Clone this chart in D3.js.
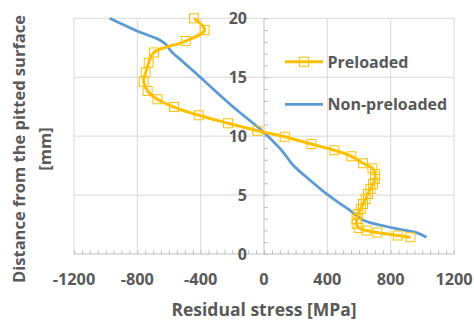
<!DOCTYPE html>
<html><head><meta charset="utf-8">
<script src="https://cdn.jsdelivr.net/npm/d3@7"></script>
<style>body{margin:0;background:#fff}svg{display:block}text{font-family:"Open Sans",sans-serif;font-weight:bold;fill:#595959}</style>
</head><body><svg id="c" width="474" height="322"></svg>
<script>
const seriesNames = ["Preloaded", "Non-preloaded"];
const xTicks = [-1200, -800, -400, 0, 400, 800, 1200];
const yTicks = [0, 5, 10, 15, 20];
// Preloaded: stress [MPa], depth [mm]
const preStress = [-442,-375,-494,-695,-728,-747,-760,-735,-673,-568,-412,-227,-42,131,299,445,552,625,685,701,701,688,672,657,642,625,611,595,585,585,598,647,716,845,925];
const preDepth  = [20.0,19.0,18.07,17.1,16.23,15.42,14.62,13.83,13.13,12.47,11.77,11.09,10.46,9.95,9.33,8.80,8.29,7.70,7.27,6.79,6.36,5.94,5.52,5.09,4.67,4.24,3.82,3.39,2.97,2.55,2.21,1.99,1.82,1.57,1.42];
// Non-preloaded
const nonStress = [-975,-806,-659,-616,-585,-512,-406,-196,-6,110,183,289,404,478,541,625,731,857,963,1026];
const nonDepth  = [20.0,18.95,18.16,17.73,17.17,16.32,15.04,12.50,10.38,8.82,7.55,6.28,5.01,4.30,3.73,2.89,2.46,2.10,1.81,1.42];

const svg = d3.select("#c");
const x = d3.scaleLinear().domain([-1200,1200]).range([74,454]);
const y = d3.scaleLinear().domain([0,20]).range([254,18.3]);

// gridlines
svg.append("g").selectAll("line").data(xTicks.filter(d=>d!==0)).join("line")
  .attr("x1",d=>x(d)).attr("x2",d=>x(d)).attr("y1",y(0)).attr("y2",y(20))
  .attr("stroke","#d9d9d9").attr("stroke-width",1);
svg.append("g").selectAll("line").data(yTicks.filter(d=>d!==0)).join("line")
  .attr("x1",x(-1200)).attr("x2",x(1200)).attr("y1",d=>y(d)).attr("y2",d=>y(d))
  .attr("stroke","#d9d9d9").attr("stroke-width",1);

// x axis with minor ticks (inside)
const xa = svg.append("g").attr("transform",`translate(0,${y(0)})`)
  .call(d3.axisBottom(x).tickValues(d3.range(-1200,1201,50)).tickSize(-4).tickFormat(""));
xa.select(".domain").attr("stroke","#bfbfbf").attr("d",`M${x(-1200)},0H${x(1200)}`);
xa.selectAll(".tick line").attr("stroke","#bfbfbf");
// y axis at x=0 with minor ticks to right
const ya = svg.append("g").attr("transform",`translate(${x(0)},0)`)
  .call(d3.axisRight(y).tickValues(d3.range(0,21,1)).tickSize(4).tickFormat(""));
ya.select(".domain").attr("stroke","#bfbfbf").attr("d",`M0,${y(0)}V${y(20)}`);
ya.selectAll(".tick line").attr("stroke","#bfbfbf");

// tick labels
svg.append("g").selectAll("text").data(xTicks).join("text")
  .attr("x",d=>x(d)).attr("y",285).attr("text-anchor","middle")
  .attr("font-size",16.3).text(d=>d);
svg.append("g").selectAll("text").data(yTicks).join("text")
  .attr("x",x(0)-17).attr("y",d=>y(d)+5.7).attr("text-anchor","end")
  .attr("font-size",16).text(d=>d);

// axis titles
svg.append("text").attr("x",264).attr("y",316).attr("text-anchor","middle")
  .attr("font-size",17.5).text("Residual stress [MPa]");
svg.append("text").attr("transform","translate(25,149) rotate(-90)").attr("text-anchor","middle")
  .attr("font-size",16.5).text("Distance from the pitted surface");
svg.append("text").attr("transform","translate(51,149) rotate(-90)").attr("text-anchor","middle")
  .attr("font-size",16.5).text("[mm]");

// series
const pre = preStress.map((s,i)=>({s, d:preDepth[i]}));
const non = nonStress.map((s,i)=>({s, d:nonDepth[i]}));
const line = d3.line().x(p=>x(p.s)).y(p=>y(p.d)).curve(d3.curveCatmullRom.alpha(0.5));

svg.append("path").datum(non).attr("d",line).attr("fill","none")
  .attr("stroke","#5B9BD5").attr("stroke-width",2.75).attr("stroke-linejoin","round");
svg.append("path").datum(pre).attr("d",line).attr("fill","none")
  .attr("stroke","#FFC000").attr("stroke-width",3).attr("stroke-linejoin","round");
svg.append("g").selectAll("rect").data(pre).join("rect")
  .attr("x",p=>x(p.s)-4.5).attr("y",p=>y(p.d)-4.5).attr("width",9).attr("height",9)
  .attr("fill","none").attr("stroke","#FFC000").attr("stroke-width",1);

// legend
const lg = svg.append("g");
lg.append("line").attr("x1",285).attr("x2",323).attr("y1",61.7).attr("y2",61.7)
  .attr("stroke","#FFC000").attr("stroke-width",3);
lg.append("rect").attr("x",304-4.5).attr("y",61.7-4.5).attr("width",9).attr("height",9)
  .attr("fill","none").attr("stroke","#FFC000").attr("stroke-width",1);
lg.append("text").attr("x",327.5).attr("y",67.5).attr("font-size",16).text(seriesNames[0]);
lg.append("line").attr("x1",285).attr("x2",323).attr("y1",104.3).attr("y2",104.3)
  .attr("stroke","#5B9BD5").attr("stroke-width",2.75);
lg.append("text").attr("x",327.5).attr("y",110).attr("font-size",16).text(seriesNames[1]);
</script></body></html>
